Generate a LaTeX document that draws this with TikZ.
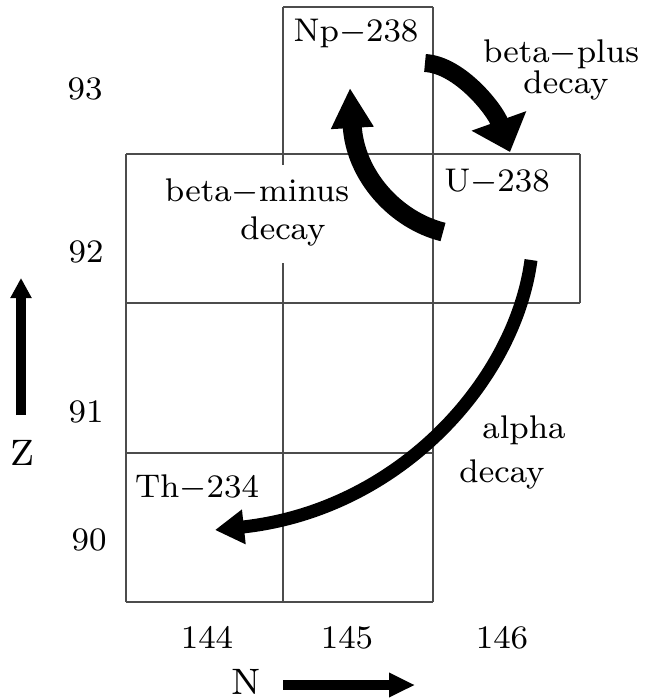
\documentclass[tikz,border=0pt]{standalone}
\usetikzlibrary{arrows.meta}
\newcommand\lbl[1]{\scalebox{4.1}{\fontsize{8}{9}\selectfont #1}}
\newcommand\axl[1]{\scalebox{4.6}{\fontsize{8}{9}\selectfont #1}}
\begin{document}
\begin{tikzpicture}[x=1pt,y=-1pt,
  gridline/.style={line width=1.3pt, draw=black!70},
  txt/.style={anchor=base, inner sep=0pt},
  decayarrow/.style={line width=#1, draw=black},
]
\useasboundingbox (0,0) rectangle (644,700);
% grid
\draw[gridline] (283,7) -- (433,7);
\draw[gridline] (283,7) -- (283,165);
\draw[gridline] (283,263) -- (283,602);
\draw[gridline] (433,7) -- (433,602);
\draw[gridline] (126,154) -- (126,602);
\draw[gridline] (580,154) -- (580,303);
\draw[gridline] (126,154) -- (580,154);
\draw[gridline] (126,303) -- (580,303);
\draw[gridline] (126,453) -- (433,453);
\draw[gridline] (126,602) -- (433,602);
% labels
\node[txt] (np) at (356,42) {\lbl{Np$-$238}};
\node[txt] (bp1) at (561,63) {\lbl{beta$-$plus}};
\node[txt] (bp2) at (566,94) {\lbl{decay}};
\node[txt] (u) at (497,192) {\lbl{U$-$238}};
\node[txt] (bm1) at (257,202) {\lbl{beta$-$minus}};
\node[txt] (bm2) at (283,240) {\lbl{decay}};
\node[txt] (al1) at (524,438) {\lbl{alpha}};
\node[txt] (al2) at (502,482) {\lbl{decay}};
\node[txt] (th) at (197,497) {\lbl{Th$-$234}};
\node[txt] (z93) at (85,100) {\lbl{93}};
\node[txt] (z92) at (86,262) {\lbl{92}};
\node[txt] (z91) at (86,422) {\lbl{91}};
\node[txt] (z90) at (89,550) {\lbl{90}};
\node[txt] (n144) at (207,648) {\lbl{144}};
\node[txt] (n145) at (347,648) {\lbl{145}};
\node[txt] (n146) at (502,648) {\lbl{146}};
\node[txt] (zl) at (22,465) {\axl{Z}};
\node[txt] (nl) at (246,694) {\axl{N}};
% arrows
\coordinate (bpTail) at (425,63);
\coordinate (bpTip) at (510,152);
\draw[decayarrow=18pt, -{Triangle[length=33pt,width=56pt]}] (bpTail) .. controls (460,65) and (495,110) .. (bpTip);
\coordinate (bmTail) at (443,232);
\coordinate (bmTip) at (350,88);
\draw[decayarrow=19pt, -{Triangle[length=40pt,width=40pt]}] (bmTail) .. controls (395,220) and (355,175) .. (bmTip);
\coordinate (aTail) at (531,260);
\coordinate (aTip) at (215,530);
\draw[decayarrow=13pt, -{Triangle[length=29pt,width=33pt]}] (aTail) .. controls (515,380) and (400,510) .. (aTip);
\coordinate (zTail) at (21,415);
\coordinate (zTip) at (21,278);
\draw[decayarrow=10pt, -{Triangle[length=20pt,width=20pt]}] (zTail) -- (zTip);
\coordinate (nTail) at (283,685);
\coordinate (nTip) at (415,685);
\draw[decayarrow=10pt, -{Triangle[length=26pt,width=23pt]}] (nTail) -- (nTip);
\end{tikzpicture}
\end{document}
